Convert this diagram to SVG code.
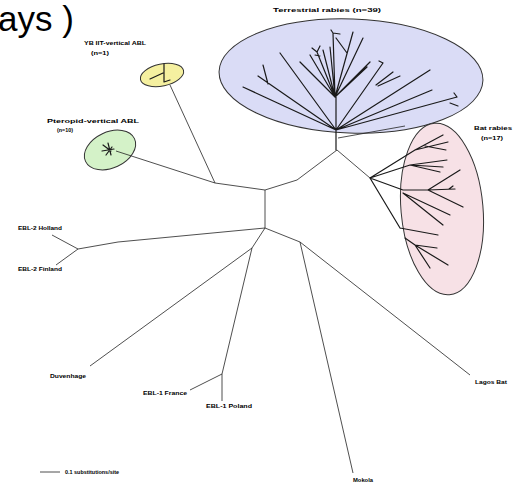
<svg xmlns="http://www.w3.org/2000/svg" width="517" height="483" viewBox="0 0 517 483">
<style>
.lab{font-family:"Liberation Sans",Arial,sans-serif;font-weight:bold;font-size:6px;fill:#000}
.clade{stroke:#333;stroke-width:1}
.tb{stroke:#1a1a1a;stroke-width:1.2;fill:none;stroke-linecap:round}
.tr{stroke:#222;stroke-width:0.8;fill:none}
</style>
<rect width="517" height="483" fill="#fff"/>
<text x="-2" y="31" font-family="Liberation Sans, Arial, sans-serif" font-size="35" fill="#000">ays )</text>

<g id="clade-terrestrial">
<ellipse class="clade" cx="351" cy="76" rx="132" ry="57" fill="#dadcf6" transform="rotate(2 351 76)"/>
<text class="lab" x="273" y="12" textLength="108" lengthAdjust="spacingAndGlyphs">Terrestrial rabies (n=39)</text>
</g>
<g id="clade-bat">
<ellipse class="clade" cx="442" cy="209" rx="41" ry="86" fill="#f7e1e6" transform="rotate(-5 442 209)"/>
<text class="lab" x="474" y="130" textLength="38" lengthAdjust="spacingAndGlyphs">Bat rabies</text>
<text class="lab" x="481" y="140" textLength="22" lengthAdjust="spacingAndGlyphs">(n=17)</text>
</g>
<g id="clade-ybst">
<ellipse class="clade" cx="162" cy="75" rx="22" ry="11" fill="#f5f0a0" transform="rotate(-12 162 75)"/>
<text class="lab" x="84" y="45" textLength="62" lengthAdjust="spacingAndGlyphs">YB IIT-vertical ABL</text>
<text class="lab" x="91" y="55" textLength="18" lengthAdjust="spacingAndGlyphs">(n=1)</text>
</g>
<g id="clade-pteropid">
<ellipse class="clade" cx="110" cy="150" rx="27" ry="18" fill="#d4f2c8" transform="rotate(-25 110 150)"/>
<text class="lab" x="47" y="123" textLength="92" lengthAdjust="spacingAndGlyphs">Pteropid-vertical ABL</text>
<text class="lab" x="57" y="132" textLength="16" lengthAdjust="spacingAndGlyphs">(n=10)</text>
</g>
<g id="leaf-ebl2h"><text class="lab" x="18" y="230" textLength="44" lengthAdjust="spacingAndGlyphs">EBL-2 Holland</text></g>
<g id="leaf-ebl2f"><text class="lab" x="18" y="271" textLength="44" lengthAdjust="spacingAndGlyphs">EBL-2 Finland</text></g>
<g id="leaf-duv"><text class="lab" x="50" y="378" textLength="36" lengthAdjust="spacingAndGlyphs">Duvenhage</text></g>
<g id="leaf-ebl1f"><text class="lab" x="143" y="395" textLength="44" lengthAdjust="spacingAndGlyphs">EBL-1 France</text></g>
<g id="leaf-ebl1p"><text class="lab" x="206" y="408" textLength="46" lengthAdjust="spacingAndGlyphs">EBL-1 Poland</text></g>
<g id="leaf-lagos"><text class="lab" x="475" y="384" textLength="32" lengthAdjust="spacingAndGlyphs">Lagos Bat</text></g>
<g id="leaf-mokola"><text class="lab" x="353" y="482" textLength="20" lengthAdjust="spacingAndGlyphs">Mokola</text></g>
<g id="scale"><line class="tr" x1="40" y1="472" x2="60" y2="472"/><text class="lab" x="65" y="474" textLength="54" lengthAdjust="spacingAndGlyphs">0.1 substitutions/site</text></g>

<g id="connectors">
<!-- terrestrial clade -->
<path class="tb" d="M336 150V97 M336 130L243 87 M336 130L258 76 M268 84L263 65 M336 130L280 53 M335 97L300 62 M335 97L310 55 M335 97L317 52 M317 52l-5 -4 M317 52l3 -6 M320 56l-5 -1 M335 97L323 50 M335 97L330 47 M335 97L333 33 M333 33l7 1 M333 33l-2 -3 M336 38L347 53 M335 97L353 32 M335 97L363 38 M335 97L370 62 M335 97L367 67 M336 130L383 63 M383 63l-4 -2 M376 85L393 72 M378 86L400 76 M336 130L430 70 M336 130L432 90 M336 130L457 97 M457 97l-3 -4 M450 103l8 3"/>
<!-- bat clade -->
<path class="tb" d="M370 178L415 150 M415 150L443 135 M415 150L448 142 M425 146L446 150 M370 178L410 165 M410 165L447 160 M410 165L443 167 M410 165L440 172 M370 178L403 190 M403 190L428 190 M428 190L460 170 M428 190L455 189 M449 189l4 -3 M428 190L463 207 M403 193L450 215 M403 193L443 225 M370 178L400 228 M400 228L438 235 M405 238L415 245 M415 245L437 248 M415 245L448 265 M415 245L430 268"/>
<!-- ybst / pteropid -->
<path class="tb" d="M150 79L163 73 M164 64V82 M164 82l6 -2"/>
<path class="tb" d="M103 145l8 6 M106 155l6 -8 M102 151l12 -2 M108 143l3 12"/>
<!-- backbone -->
<path class="tr" d="M170 85L215 183 M116 151L215 183 M215 183L265 190 M265 190L297 180 M297 180L337 150 M337 150L370 178 M338 138L405 126 M265 190L265 228 M265 228L118 242 L78 249 M78 249L52 235 M78 249L56 265 M265 228L252 248 M252 248L90 366 M252 248L222 374 M222 374L190 390 M222 374L222 401 M265 228L300 242 M300 242L470 375 M300 242L353 473"/>
</g>
</svg>
